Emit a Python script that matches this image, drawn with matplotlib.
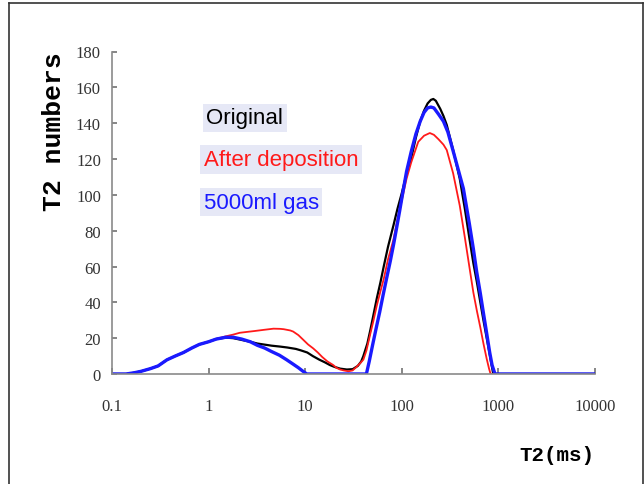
import matplotlib
matplotlib.use("Agg")
import matplotlib.pyplot as plt
from matplotlib.lines import Line2D

# T2 spectrum (x in ms, y in counts)
orig_x = [0.1, 0.14, 0.17, 0.2, 0.25, 0.3, 0.37, 0.45, 0.55, 0.67, 0.8, 1.0, 1.2, 1.5,
          1.8, 2.2, 2.7, 3.2, 4.5, 5.5, 6.5, 8, 9, 10.5, 12, 14, 16, 18, 20, 23, 27,
          31, 35, 38, 40, 44, 47, 50, 55, 60, 65, 72, 82, 90, 100, 110, 122, 140,
          155, 170, 185, 200, 212, 225, 250, 270, 292, 340, 398, 450, 500, 550, 600,
          650, 700, 757, 800, 850, 885, 1000, 10000]
orig_y = [0, 0, 0.7, 1.5, 3, 4.5, 7.9, 10, 12, 14.5, 16.5, 18, 19.5, 20.3,
          20, 19, 18, 17, 15.8, 15.3, 14.8, 14, 13.2, 12, 10, 8, 6.5, 5, 4, 3, 2.5,
          2.7, 4.5, 7, 10, 17, 24, 31, 42, 51, 60, 71, 83, 92, 101, 110, 118, 132,
          141, 147, 151, 153, 153.5, 152.5, 148, 144, 139, 125, 109, 92, 76, 62, 51,
          40, 30, 20, 13, 5, 0, 0, 0]

dep_x = [0.1, 0.14, 0.17, 0.2, 0.25, 0.3, 0.37, 0.45, 0.55, 0.67, 0.8, 1.0, 1.2, 1.5,
         1.8, 2.1, 2.5, 3.0, 3.8, 4.7, 5.5, 6.0, 7.0, 7.5, 8.5, 9.5, 10.7, 12.1,
         13.5, 15, 17, 19.5, 21, 23, 25, 28, 31, 34, 37, 40, 43, 47, 51, 55, 60, 65,
         72, 82, 90, 100, 112, 125, 148, 170, 195, 215, 240, 270, 292, 340, 398,
         450, 500, 550, 600, 650, 700, 757, 800, 830, 10000]
dep_y = [0, 0, 0.7, 1.5, 3, 4.5, 7.9, 10, 12, 14.5, 16.5, 18, 19.6, 21,
         22, 23, 23.5, 24, 24.7, 25.3, 25.2, 25, 24.3, 23.7, 21.7, 19.2, 16.5, 14.3,
         12, 9.5, 7, 5, 3.5, 2.5, 2, 1.5, 2, 4, 6, 8, 13, 22, 30, 38, 46, 53,
         64, 75, 86, 97, 109, 118, 129.6, 133, 134.5, 133.5, 131, 128, 125, 112, 94,
         76, 60, 45.6, 35, 26, 17, 8.4, 3, 0, 0]

gas_x = [0.1, 0.14, 0.17, 0.2, 0.25, 0.3, 0.37, 0.45, 0.55, 0.67, 0.8, 1.0, 1.2, 1.5,
         1.8, 2.2, 2.7, 3.2, 3.8, 4.5, 5.4, 6.4, 7.5, 8.5, 9.5, 10.4, 43, 46, 50,
         54, 59, 64, 70, 76, 82, 88, 95, 103, 112, 125, 140, 155, 170, 185, 200,
         215, 240, 270, 300, 350, 434, 500, 550, 596, 650, 700, 760, 813, 860, 922,
         10000]
gas_y = [0, 0, 0.7, 1.5, 3, 4.5, 7.9, 10, 12, 14.5, 16.5, 18, 19.5, 20.5,
         20.5, 19.5, 18, 16, 14.5, 12.5, 10.5, 8, 5.5, 3.5, 1.5, 0, 0, 7, 16.5,
         25, 34.5, 44, 54, 63, 72, 81, 91, 102, 113, 124, 134, 141, 146, 148.5, 149,
         148.5, 145, 141, 135, 122, 103.5, 84, 70, 57, 45, 34, 22, 12, 5, 0,
         0]

xticks = [0.1, 1, 10, 100, 1000, 10000]
xtick_labels = ["0.1", "1", "10", "100", "1000", "10000"]
yticks = list(range(0, 181, 20))

W, H = 644, 485
fig = plt.figure(figsize=(W / 100, H / 100), dpi=100)
ax = fig.add_axes([112 / W, 1 - 375 / H, (595 - 112) / W, (375 - 52.5) / H])

ax.plot(orig_x, orig_y, color="black", lw=1.6)
ax.plot(dep_x, dep_y, color="#ff1a1a", lw=1.3)
ax.plot(gas_x, gas_y, color="#1a1aff", lw=2.4)

ax.set_xscale("log")
ax.set_xlim(0.1, 10000)
ax.set_ylim(0, 180)
ax.set_xticks(xticks)
ax.set_xticklabels(xtick_labels)
ax.set_yticks(yticks)
ax.minorticks_off()

for s in ["top", "right"]:
    ax.spines[s].set_visible(False)
for s in ["left", "bottom"]:
    ax.spines[s].set_color("#8a8a8a")
    ax.spines[s].set_linewidth(1.2)

ax.tick_params(axis="x", direction="in", length=4.5, width=1.1, color="#666666",
               pad=17, labelsize=12, labelcolor="#333333")
ax.tick_params(axis="y", direction="in", length=3.8, width=1.1, color="#666666",
               pad=8, labelsize=12, labelcolor="#333333")
for lab in ax.get_xticklabels() + ax.get_yticklabels():
    lab.set_family("Liberation Serif")

# legend as coloured text boxes
box = dict(facecolor="#e6e8f6", edgecolor="none", pad=2.5)
ax.text(0.195, 0.795, "Original", transform=ax.transAxes, color="black",
        fontsize=16, family="Liberation Sans", va="center", bbox=box)
ax.text(0.190, 0.665, "After deposition", transform=ax.transAxes, color="#ff1a1a",
        fontsize=16, family="Liberation Sans", va="center", bbox=box)
ax.text(0.190, 0.532, "5000ml gas", transform=ax.transAxes, color="#1a1aff",
        fontsize=16, family="Liberation Sans", va="center", bbox=box)

fig.text(54 / W, 1 - 132 / H, "T2 numbers", rotation=90, ha="center", va="center",
         fontsize=19, family="Liberation Mono", weight="bold")
fig.text(594 / W, 1 - 456 / H, "T2(ms)", ha="right", va="center",
         fontsize=15, family="Liberation Mono", weight="bold")

# outer frame
fx0, fx1, fy1 = 9 / W, 642.5 / W, 1 - 3.5 / H
fig.add_artist(Line2D([fx0, fx0], [0, fy1], color="#333333", lw=1.2))
fig.add_artist(Line2D([fx0, fx1], [fy1, fy1], color="#333333", lw=1.2))
fig.add_artist(Line2D([fx1, fx1], [0, fy1], color="#333333", lw=1.2))

fig.savefig("out.png", dpi=100)
